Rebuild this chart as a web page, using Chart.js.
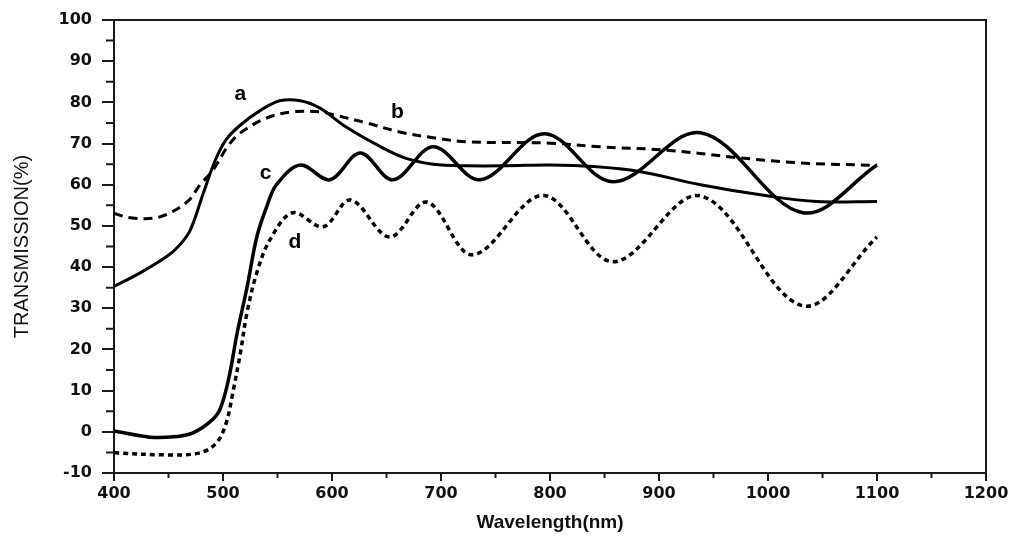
<!DOCTYPE html>
<html>
<head>
<meta charset="utf-8">
<script src="https://cdn.jsdelivr.net/npm/chart.js@4.4.0/dist/chart.umd.min.js"></script>
<style>
  html, body { margin: 0; padding: 0; background: #fff; }
</style>
</head>
<body>
<canvas id="chart" width="1012" height="543"></canvas>
<script>
// wavelength (nm) / transmission (%)
const aX = [400, 424, 448, 459, 470, 482, 493, 503, 516, 534, 552, 571, 589, 613, 644, 668, 693, 724, 760, 800, 840, 882, 938, 999, 1045, 1100];
const aY = [35.3, 38.6, 42.5, 45, 49, 58, 66, 71, 74.5, 78, 80.4, 80.4, 78.6, 74, 69.3, 66.4, 65, 64.6, 64.6, 64.8, 64.4, 63.2, 60, 57.3, 55.9, 55.9];

const bX = [400, 417, 442, 467, 479, 491, 504, 516, 540, 564, 589, 601, 632, 662, 693, 724, 800, 846, 907, 968, 1029, 1100];
const bY = [53, 51.9, 52.2, 55.8, 60, 63.6, 69.2, 72.6, 76.2, 77.7, 77.7, 77, 75, 72.8, 71.4, 70.4, 70.1, 69.2, 68.4, 66.7, 65.3, 64.7];

const cX = [400, 433, 455, 472, 488, 497, 505, 513, 522, 531, 540, 549, 571, 598, 626, 656, 693, 736, 795, 858, 938, 1032, 1100];
const cY = [0.2, -1.3, -1.2, -0.3, 2.4, 5.3, 12.6, 24, 35, 47.3, 54.6, 60, 64.8, 61.2, 67.7, 61.2, 69.2, 61.2, 72.4, 60.7, 72.6, 53.2, 64.8];

const dX = [400, 449, 479, 494, 503, 509, 516, 522, 531, 543, 564, 592, 617, 653, 687, 729, 794, 858, 938, 1032, 1100];
const dY = [-5.1, -5.6, -5.1, -2.7, 2.2, 9.5, 19.2, 28.9, 38.6, 46.6, 53.2, 49.8, 56.3, 47.3, 55.8, 43, 57.4, 41.3, 57.3, 30.6, 47.3];

const curveNames = ['a', 'b', 'c', 'd'];
const nameX = [516, 660, 539, 566];
const nameY = [82, 77.7, 62.9, 46.1];

const axisColor = '#1a1a1a';

const toPoints = (xs, ys) => xs.map((x, i) => ({ x: x, y: ys[i] }));

const frameAndLabels = {
  id: 'frameAndLabels',
  afterDraw(chart) {
    const { ctx, chartArea: { left, right, top, bottom }, scales: { x, y } } = chart;
    ctx.save();
    ctx.strokeStyle = axisColor;
    ctx.lineWidth = 2;
    ctx.beginPath();
    ctx.moveTo(left, top);
    ctx.lineTo(right, top);
    ctx.lineTo(right, bottom);
    ctx.stroke();

    // minor ticks
    ctx.beginPath();
    for (let v = -5; v < 100; v += 10) {
      const py = y.getPixelForValue(v);
      ctx.moveTo(left - 8, py);
      ctx.lineTo(left, py);
    }
    for (let v = 450; v < 1200; v += 100) {
      const px = x.getPixelForValue(v);
      ctx.moveTo(px, bottom);
      ctx.lineTo(px, bottom + 5);
    }
    ctx.stroke();

    // curve letters
    ctx.fillStyle = '#000';
    ctx.font = 'bold 21px "Liberation Sans", Arial, sans-serif';
    ctx.textAlign = 'center';
    ctx.textBaseline = 'middle';
    curveNames.forEach((n, i) => {
      ctx.fillText(n, x.getPixelForValue(nameX[i]), y.getPixelForValue(nameY[i]));
    });
    ctx.restore();
  }
};

const lineStyle = (data, dash, width) => ({
  data: data,
  borderColor: '#000',
  borderWidth: width,
  borderDash: dash,
  pointRadius: 0,
  fill: false,
  tension: 0.35
});

new Chart(document.getElementById('chart'), {
  type: 'line',
  data: {
    datasets: [
      lineStyle(toPoints(aX, aY), [], 3),
      lineStyle(toPoints(bX, bY), [9, 6], 3),
      lineStyle(toPoints(cX, cY), [], 3.5),
      lineStyle(toPoints(dX, dY), [5, 4], 3.5)
    ]
  },
  options: {
    responsive: false,
    animation: false,
    layout: {
      padding: { top: 20, right: 26, left: 0, bottom: 0 }
    },
    plugins: {
      legend: { display: false },
      tooltip: { enabled: false }
    },
    scales: {
      x: {
        type: 'linear',
        min: 400,
        max: 1200,
        afterFit: (scale) => { scale.height = 70 },
        ticks: {
          stepSize: 100,
          color: '#111',
          padding: 3,
          maxRotation: 0,
          callback: (v) => String(v),
          font: { family: '"DejaVu Sans"', size: 16, weight: 'bold' }
        },
        grid: {
          drawOnChartArea: false,
          tickLength: 8,
          color: axisColor,
          lineWidth: 2
        },
        border: { display: true, color: axisColor, width: 2 },
        title: {
          display: true,
          text: 'Wavelength(nm)',
          color: '#111',
          padding: { top: 0, bottom: 9 },
          font: { family: '"Liberation Sans", Arial', size: 19, weight: 'bold' }
        }
      },
      y: {
        min: -10,
        max: 100,
        afterFit: (scale) => { scale.width = 114 },
        ticks: {
          stepSize: 10,
          color: '#111',
          padding: 10,
          callback: (v) => String(v),
          font: { family: '"DejaVu Sans"', size: 16, weight: 'bold' }
        },
        grid: {
          drawOnChartArea: false,
          tickLength: 12,
          color: axisColor,
          lineWidth: 2
        },
        border: { display: true, color: axisColor, width: 2 },
        title: {
          display: true,
          text: 'TRANSMISSION(%)',
          color: '#111',
          padding: { top: 10, bottom: 0 },
          font: { family: '"Liberation Sans", Arial', size: 20, weight: 'normal' }
        }
      }
    }
  },
  plugins: [frameAndLabels]
});
</script>
</body>
</html>
